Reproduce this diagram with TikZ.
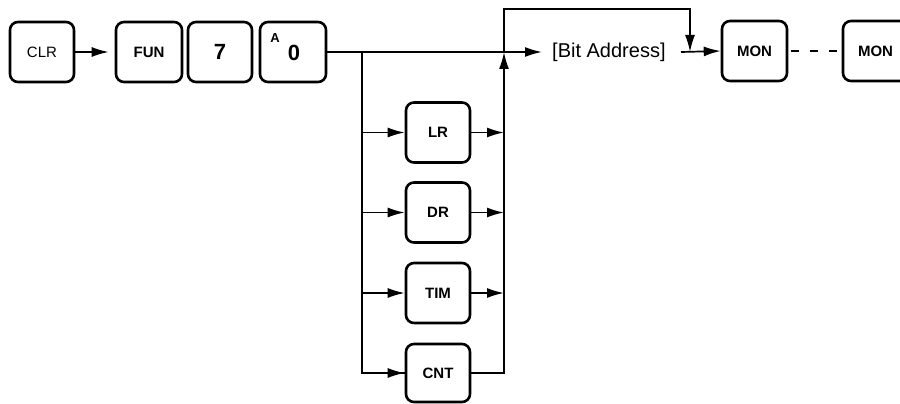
\documentclass[tikz,border=0pt]{standalone}
\usepackage{fontspec}
\setmainfont{Liberation Sans}
\usetikzlibrary{arrows.meta}
\begin{document}
\begin{tikzpicture}[x=1pt,y=-1pt,
  key/.style={draw, line width=2.6pt, rounded corners=8pt, minimum width=64pt, minimum height=60pt, inner sep=0pt, font=\fontsize{15}{15}\selectfont\bfseries},
  conn/.style={line width=1.7pt},
  arr/.style={conn, -{Latex[length=17pt,width=10pt]}}]
\useasboundingbox (0,0) rectangle (900,404);
\begin{scope}
\clip (0,0) rectangle (900,404);
\node[key, font=\fontsize{15}{15}\selectfont] (clr) at (42,52) {CLR};
\node[key, minimum width=66pt] (fun) at (149,52) {FUN};
\node[key] (seven) at (220,52) {\fontsize{22}{22}\selectfont 7};
\node[key, minimum width=66pt] (zero) at (293,52) {};
\node[font=\fontsize{22}{22}\selectfont\bfseries] (zerolbl) at (294,53) {0};
\node[font=\fontsize{13}{13}\selectfont\bfseries] (albl) at (275,38) {A};
\node[key] (lr) at (438,132.5) {LR};
\node[key] (dr) at (438,212.5) {DR};
\node[key] (tim) at (438,293) {TIM};
\node[key, minimum height=58pt] (cnt) at (438,373) {CNT};
\node[anchor=west, inner sep=0pt, font=\fontsize{20}{20}\selectfont] (bit) at (552,52) {[Bit Address]};
\node[key, minimum width=65pt] (mon1) at (754.5,51) {MON};
\node[key, minimum width=65pt] (mon2) at (875.5,51) {MON};

\coordinate (split) at (362,52);
\coordinate (join) at (504,52);
\coordinate (top) at (504,9);
\coordinate (drop) at (690,9);
\coordinate (mjoin) at (690,52);
\coordinate (bitout) at (681,52);

\draw[arr, shorten >=6pt] (clr.east) -- (fun.west);
\draw[arr, shorten >=10pt] (zero.east) -- (bit.west);
\draw[conn] (split) |- (cnt.west);
\draw[arr] (split |- lr.west) -- (lr.west);
\draw[arr] (split |- dr.west) -- (dr.west);
\draw[arr] (split |- tim.west) -- (tim.west);
\draw[arr] (split |- cnt.west) -- (cnt.west);
\draw[arr] (lr.east) -- (join |- lr.east);
\draw[arr] (dr.east) -- (join |- dr.east);
\draw[arr] (tim.east) -- (join |- tim.east);
\draw[arr] (cnt.east) -| (join);
\draw[conn] (join) -- (top) -- (drop) -- (690,40);
\draw[arr] (drop) -- (mjoin);
\draw[arr] (bitout) -- (mon1.west);
\draw[conn, dash pattern=on 8pt off 11pt, dash phase=-3pt] (mon1.east) -- (mon2.west);
\end{scope}
\end{tikzpicture}
\end{document}
